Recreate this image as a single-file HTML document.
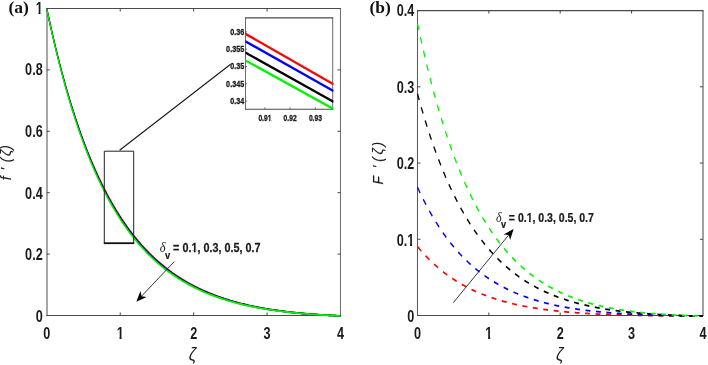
<!DOCTYPE html>
<html><head><meta charset="utf-8"><title>Figure</title>
<style>
html,body{margin:0;padding:0;background:#fff;}
body{width:708px;height:365px;overflow:hidden;}
svg{display:block;}
</style></head><body>
<svg width="708" height="365" viewBox="0 0 708 365">
<rect width="708" height="365" fill="#fff"/>
<!-- panel (a) -->
<path d="M47.0,8.5V315.5" fill="none" stroke="#5c5c5c" stroke-width="1.1"/>
<path d="M340.45,8.5V315.5" fill="none" stroke="#6a6a6a" stroke-width="1.0"/>
<path d="M46.199999999999996,8.5H341.1M46.199999999999996,315.5H341.1" fill="none" stroke="#4a4a4a" stroke-width="1.15"/>
<path d="M120.22,315.5v-3 M120.22,8.5v3 M193.65,315.5v-3 M193.65,8.5v3 M267.07,315.5v-3 M267.07,8.5v3 M46.8,254.10h3 M340.5,254.10h-3 M46.8,192.70h3 M340.5,192.70h-3 M46.8,131.30h3 M340.5,131.30h-3 M46.8,69.90h3 M340.5,69.90h-3" stroke="#333" stroke-width="0.9" fill="none"/>
<clipPath id="cl"><rect x="46.0" y="7.7" width="295.3" height="309.2"/></clipPath>
<g clip-path="url(#cl)"><g transform="scale(0.733,1)" fill="none" stroke-linejoin="round" stroke-width="1.75">
<path d="M63.85,8.90 L66.35,17.39 L68.86,25.65 L71.36,33.68 L73.86,41.48 L76.37,49.08 L78.87,56.46 L81.38,63.64 L83.88,70.61 L86.39,77.40 L88.89,84.00 L91.39,90.42 L93.90,96.66 L96.40,102.73 L98.91,108.63 L101.41,114.37 L103.92,119.95 L106.42,125.38 L108.92,130.66 L111.43,135.80 L113.93,140.79 L116.44,145.65 L118.94,150.37 L121.45,154.97 L123.95,159.44 L126.45,163.78 L128.96,168.01 L131.46,172.13 L133.97,176.13 L136.47,180.02 L138.98,183.81 L141.48,187.49 L143.98,191.07 L146.49,194.56 L148.99,197.95 L151.50,201.25 L154.00,204.46 L156.50,207.59 L159.01,210.63 L161.51,213.58 L164.02,216.46 L166.52,219.26 L169.03,221.99 L171.53,224.64 L174.03,227.22 L176.54,229.73 L179.04,232.17 L181.55,234.55 L184.05,236.86 L186.56,239.11 L189.06,241.30 L191.56,243.44 L194.07,245.51 L196.57,247.53 L199.08,249.50 L201.58,251.41 L204.09,253.27 L206.59,255.09 L209.09,256.85 L211.60,258.57 L214.10,260.24 L216.61,261.87 L219.11,263.45 L221.62,264.99 L224.12,266.49 L226.62,267.95 L229.13,269.37 L231.63,270.75 L234.14,272.10 L236.64,273.41 L239.15,274.68 L241.65,275.92 L244.15,277.13 L246.66,278.31 L249.16,279.45 L251.67,280.56 L254.17,281.65 L256.68,282.70 L259.18,283.73 L261.68,284.73 L264.19,285.70 L266.69,286.65 L269.20,287.57 L271.70,288.46 L274.21,289.33 L276.71,290.18 L279.21,291.01 L281.72,291.81 L284.22,292.59 L286.73,293.35 L289.23,294.09 L291.74,294.81 L294.24,295.51 L296.74,296.19 L299.25,296.85 L301.75,297.49 L304.26,298.12 L306.76,298.73 L309.27,299.32 L311.77,299.90 L314.27,300.46 L316.78,301.00 L319.28,301.53 L321.79,302.04 L324.29,302.55 L326.79,303.03 L329.30,303.50 L331.80,303.96 L334.31,304.41 L336.81,304.84 L339.32,305.27 L341.82,305.67 L344.32,306.07 L346.83,306.46 L349.33,306.83 L351.84,307.20 L354.34,307.55 L356.85,307.90 L359.35,308.23 L361.85,308.56 L364.36,308.87 L366.86,309.18 L369.37,309.47 L371.87,309.76 L374.38,310.04 L376.88,310.31 L379.38,310.57 L381.89,310.83 L384.39,311.07 L386.90,311.31 L389.40,311.55 L391.91,311.77 L394.41,311.99 L396.91,312.20 L399.42,312.40 L401.92,312.60 L404.43,312.79 L406.93,312.98 L409.44,313.16 L411.94,313.34 L414.44,313.50 L416.95,313.67 L419.45,313.82 L421.96,313.98 L424.46,314.13 L426.97,314.27 L429.47,314.41 L431.97,314.54 L434.48,314.67 L436.98,314.79 L439.49,314.91 L441.99,315.03 L444.50,315.14 L447.00,315.25 L449.50,315.35 L452.01,315.45 L454.51,315.55 L457.02,315.64 L459.52,315.73 L462.03,315.82 L464.53,315.90" stroke="#ff0000" stroke-width="1.6"/>
<path d="M63.85,8.90 L66.35,17.44 L68.86,25.75 L71.36,33.83 L73.86,41.68 L76.37,49.31 L78.87,56.73 L81.38,63.94 L83.88,70.96 L86.39,77.77 L88.89,84.40 L91.39,90.85 L93.90,97.12 L96.40,103.21 L98.91,109.13 L101.41,114.89 L103.92,120.50 L106.42,125.94 L108.92,131.24 L111.43,136.39 L113.93,141.39 L116.44,146.26 L118.94,151.00 L121.45,155.60 L123.95,160.08 L126.45,164.43 L128.96,168.67 L131.46,172.79 L133.97,176.80 L136.47,180.69 L138.98,184.48 L141.48,188.17 L143.98,191.75 L146.49,195.24 L148.99,198.63 L151.50,201.93 L154.00,205.14 L156.50,208.26 L159.01,211.30 L161.51,214.26 L164.02,217.13 L166.52,219.93 L169.03,222.65 L171.53,225.29 L174.03,227.87 L176.54,230.38 L179.04,232.81 L181.55,235.18 L184.05,237.49 L186.56,239.74 L189.06,241.92 L191.56,244.05 L194.07,246.12 L196.57,248.13 L199.08,250.09 L201.58,252.00 L204.09,253.85 L206.59,255.65 L209.09,257.41 L211.60,259.12 L214.10,260.78 L216.61,262.40 L219.11,263.98 L221.62,265.51 L224.12,267.00 L226.62,268.45 L229.13,269.86 L231.63,271.24 L234.14,272.58 L236.64,273.88 L239.15,275.14 L241.65,276.38 L244.15,277.58 L246.66,278.74 L249.16,279.88 L251.67,280.98 L254.17,282.06 L256.68,283.10 L259.18,284.12 L261.68,285.11 L264.19,286.08 L266.69,287.01 L269.20,287.93 L271.70,288.81 L274.21,289.68 L276.71,290.52 L279.21,291.33 L281.72,292.13 L284.22,292.90 L286.73,293.66 L289.23,294.39 L291.74,295.10 L294.24,295.79 L296.74,296.46 L299.25,297.12 L301.75,297.76 L304.26,298.38 L306.76,298.98 L309.27,299.56 L311.77,300.13 L314.27,300.69 L316.78,301.22 L319.28,301.75 L321.79,302.25 L324.29,302.75 L326.79,303.23 L329.30,303.70 L331.80,304.15 L334.31,304.59 L336.81,305.02 L339.32,305.43 L341.82,305.84 L344.32,306.23 L346.83,306.61 L349.33,306.98 L351.84,307.34 L354.34,307.69 L356.85,308.03 L359.35,308.36 L361.85,308.68 L364.36,308.99 L366.86,309.29 L369.37,309.58 L371.87,309.86 L374.38,310.14 L376.88,310.41 L379.38,310.66 L381.89,310.92 L384.39,311.16 L386.90,311.39 L389.40,311.62 L391.91,311.84 L394.41,312.06 L396.91,312.27 L399.42,312.47 L401.92,312.66 L404.43,312.85 L406.93,313.03 L409.44,313.21 L411.94,313.38 L414.44,313.55 L416.95,313.71 L419.45,313.86 L421.96,314.01 L424.46,314.16 L426.97,314.30 L429.47,314.43 L431.97,314.56 L434.48,314.69 L436.98,314.81 L439.49,314.93 L441.99,315.04 L444.50,315.15 L447.00,315.26 L449.50,315.36 L452.01,315.46 L454.51,315.56 L457.02,315.65 L459.52,315.73 L462.03,315.82 L464.53,315.90" stroke="#0000ff" stroke-width="1.6"/>
<path d="M63.85,8.90 L66.35,17.52 L68.86,25.90 L71.36,34.04 L73.86,41.95 L76.37,49.64 L78.87,57.12 L81.38,64.38 L83.88,71.44 L86.39,78.31 L88.89,84.98 L91.39,91.46 L93.90,97.77 L96.40,103.90 L98.91,109.85 L101.41,115.64 L103.92,121.27 L106.42,126.74 L108.92,132.06 L111.43,137.23 L113.93,142.26 L116.44,147.14 L118.94,151.89 L121.45,156.51 L123.95,161.00 L126.45,165.37 L128.96,169.61 L131.46,173.74 L133.97,177.75 L136.47,181.65 L138.98,185.45 L141.48,189.14 L143.98,192.72 L146.49,196.21 L148.99,199.60 L151.50,202.90 L154.00,206.11 L156.50,209.23 L159.01,212.27 L161.51,215.22 L164.02,218.09 L166.52,220.88 L169.03,223.59 L171.53,226.23 L174.03,228.80 L176.54,231.30 L179.04,233.73 L181.55,236.10 L184.05,238.39 L186.56,240.63 L189.06,242.81 L191.56,244.92 L194.07,246.98 L196.57,248.98 L199.08,250.93 L201.58,252.83 L204.09,254.67 L206.59,256.47 L209.09,258.21 L211.60,259.91 L214.10,261.56 L216.61,263.17 L219.11,264.73 L221.62,266.25 L224.12,267.73 L226.62,269.17 L229.13,270.57 L231.63,271.93 L234.14,273.26 L236.64,274.55 L239.15,275.80 L241.65,277.02 L244.15,278.21 L246.66,279.36 L249.16,280.49 L251.67,281.58 L254.17,282.64 L256.68,283.68 L259.18,284.68 L261.68,285.66 L264.19,286.62 L266.69,287.54 L269.20,288.44 L271.70,289.32 L274.21,290.17 L276.71,291.00 L279.21,291.81 L281.72,292.59 L284.22,293.35 L286.73,294.09 L289.23,294.81 L291.74,295.52 L294.24,296.20 L296.74,296.86 L299.25,297.50 L301.75,298.13 L304.26,298.74 L306.76,299.33 L309.27,299.91 L311.77,300.47 L314.27,301.01 L316.78,301.54 L319.28,302.06 L321.79,302.55 L324.29,303.04 L326.79,303.51 L329.30,303.97 L331.80,304.41 L334.31,304.85 L336.81,305.27 L339.32,305.68 L341.82,306.07 L344.32,306.46 L346.83,306.83 L349.33,307.19 L351.84,307.55 L354.34,307.89 L356.85,308.22 L359.35,308.54 L361.85,308.85 L364.36,309.16 L366.86,309.45 L369.37,309.74 L371.87,310.01 L374.38,310.28 L376.88,310.54 L379.38,310.80 L381.89,311.04 L384.39,311.28 L386.90,311.51 L389.40,311.73 L391.91,311.95 L394.41,312.16 L396.91,312.36 L399.42,312.56 L401.92,312.75 L404.43,312.93 L406.93,313.11 L409.44,313.28 L411.94,313.45 L414.44,313.61 L416.95,313.77 L419.45,313.92 L421.96,314.06 L424.46,314.21 L426.97,314.34 L429.47,314.47 L431.97,314.60 L434.48,314.72 L436.98,314.84 L439.49,314.96 L441.99,315.07 L444.50,315.18 L447.00,315.28 L449.50,315.38 L452.01,315.47 L454.51,315.56 L457.02,315.65 L459.52,315.74 L462.03,315.82 L464.53,315.90" stroke="#000000" stroke-width="1.6"/>
<path d="M63.77,8.90 L66.27,17.59 L68.78,26.04 L71.28,34.25 L73.78,42.22 L76.29,49.97 L78.79,57.50 L81.30,64.82 L83.80,71.93 L86.31,78.84 L88.81,85.56 L91.31,92.08 L93.82,98.42 L96.32,104.58 L98.83,110.57 L101.33,116.39 L103.84,122.04 L106.34,127.54 L108.84,132.88 L111.35,138.07 L113.85,143.12 L116.36,148.02 L118.86,152.79 L121.37,157.42 L123.87,161.92 L126.37,166.30 L128.88,170.55 L131.38,174.69 L133.89,178.71 L136.39,182.61 L138.90,186.41 L141.40,190.10 L143.90,193.69 L146.41,197.18 L148.91,200.58 L151.42,203.88 L153.92,207.08 L156.42,210.20 L158.93,213.23 L161.43,216.18 L163.94,219.04 L166.44,221.83 L168.95,224.54 L171.45,227.17 L173.95,229.74 L176.46,232.23 L178.96,234.65 L181.47,237.01 L183.97,239.30 L186.48,241.52 L188.98,243.69 L191.48,245.80 L193.99,247.85 L196.49,249.84 L199.00,251.78 L201.50,253.66 L204.01,255.49 L206.51,257.28 L209.01,259.01 L211.52,260.70 L214.02,262.34 L216.53,263.93 L219.03,265.48 L221.54,266.99 L224.04,268.46 L226.54,269.89 L229.05,271.28 L231.55,272.63 L234.06,273.94 L236.56,275.22 L239.07,276.46 L241.57,277.67 L244.07,278.84 L246.58,279.99 L249.08,281.10 L251.59,282.18 L254.09,283.23 L256.60,284.25 L259.10,285.25 L261.60,286.21 L264.11,287.15 L266.61,288.07 L269.12,288.96 L271.62,289.82 L274.13,290.66 L276.63,291.48 L279.13,292.28 L281.64,293.05 L284.14,293.80 L286.65,294.53 L289.15,295.24 L291.66,295.93 L294.16,296.60 L296.66,297.26 L299.17,297.89 L301.67,298.51 L304.18,299.11 L306.68,299.69 L309.19,300.26 L311.69,300.81 L314.19,301.34 L316.70,301.86 L319.20,302.36 L321.71,302.85 L324.21,303.33 L326.71,303.79 L329.22,304.24 L331.72,304.68 L334.23,305.10 L336.73,305.52 L339.24,305.92 L341.74,306.30 L344.24,306.68 L346.75,307.05 L349.25,307.40 L351.76,307.75 L354.26,308.08 L356.77,308.41 L359.27,308.72 L361.77,309.03 L364.28,309.33 L366.78,309.61 L369.29,309.89 L371.79,310.16 L374.30,310.43 L376.80,310.68 L379.30,310.93 L381.81,311.17 L384.31,311.40 L386.82,311.62 L389.32,311.84 L391.83,312.05 L394.33,312.26 L396.83,312.46 L399.34,312.65 L401.84,312.83 L404.35,313.01 L406.85,313.19 L409.36,313.35 L411.86,313.52 L414.36,313.67 L416.87,313.83 L419.37,313.97 L421.88,314.12 L424.38,314.25 L426.89,314.39 L429.39,314.51 L431.89,314.64 L434.40,314.76 L436.90,314.87 L439.41,314.99 L441.91,315.09 L444.42,315.20 L446.92,315.30 L449.42,315.39 L451.93,315.49 L454.43,315.57 L456.94,315.66 L459.44,315.74 L461.95,315.82 L464.45,315.90" stroke="#00f400" stroke-width="1.9"/>
</g></g>
<text transform="translate(46.80,339.10) scale(0.7450,1)" font-family='"Liberation Sans", Arial, sans-serif' font-size="17.0" font-weight="bold" font-style="normal" text-anchor="middle" fill="#1a1a1a" >0</text>
<text transform="translate(120.22,339.10) scale(0.7450,1)" font-family='"Liberation Sans", Arial, sans-serif' font-size="17.0" font-weight="bold" font-style="normal" text-anchor="middle" fill="#1a1a1a" >1</text><g transform="translate(120.22,339.10) scale(0.7450,1)" fill="#fff"><rect x="-4.39" y="-2.12" width="3.40" height="2.67"/><rect x="1.81" y="-2.12" width="3.40" height="2.67"/></g>
<text transform="translate(193.65,339.10) scale(0.7450,1)" font-family='"Liberation Sans", Arial, sans-serif' font-size="17.0" font-weight="bold" font-style="normal" text-anchor="middle" fill="#1a1a1a" >2</text>
<text transform="translate(267.07,339.10) scale(0.7450,1)" font-family='"Liberation Sans", Arial, sans-serif' font-size="17.0" font-weight="bold" font-style="normal" text-anchor="middle" fill="#1a1a1a" >3</text>
<text transform="translate(340.50,339.10) scale(0.7450,1)" font-family='"Liberation Sans", Arial, sans-serif' font-size="17.0" font-weight="bold" font-style="normal" text-anchor="middle" fill="#1a1a1a" >4</text>
<text transform="translate(42.70,322.00) scale(0.7450,1)" font-family='"Liberation Sans", Arial, sans-serif' font-size="17.0" font-weight="bold" font-style="normal" text-anchor="end" fill="#1a1a1a" >0</text>
<text transform="translate(42.70,260.34) scale(0.7450,1)" font-family='"Liberation Sans", Arial, sans-serif' font-size="17.0" font-weight="bold" font-style="normal" text-anchor="end" fill="#1a1a1a" >0.2</text>
<text transform="translate(42.70,198.68) scale(0.7450,1)" font-family='"Liberation Sans", Arial, sans-serif' font-size="17.0" font-weight="bold" font-style="normal" text-anchor="end" fill="#1a1a1a" >0.4</text>
<text transform="translate(42.70,137.02) scale(0.7450,1)" font-family='"Liberation Sans", Arial, sans-serif' font-size="17.0" font-weight="bold" font-style="normal" text-anchor="end" fill="#1a1a1a" >0.6</text>
<text transform="translate(42.70,75.36) scale(0.7450,1)" font-family='"Liberation Sans", Arial, sans-serif' font-size="17.0" font-weight="bold" font-style="normal" text-anchor="end" fill="#1a1a1a" >0.8</text>
<text transform="translate(42.70,13.70) scale(0.7450,1)" font-family='"Liberation Sans", Arial, sans-serif' font-size="17.0" font-weight="bold" font-style="normal" text-anchor="end" fill="#1a1a1a" >1</text><g transform="translate(42.70,13.70) scale(0.7450,1)" fill="#fff"><rect x="-9.12" y="-2.12" width="3.40" height="2.67"/><rect x="-2.92" y="-2.12" width="3.40" height="2.67"/></g>
<text transform="translate(192.50,359.80) scale(0.8800,1)" font-family='"Liberation Sans", Arial, sans-serif' font-size="18.5" font-weight="normal" font-style="italic" text-anchor="middle" fill="#1a1a1a" >ζ</text>
<text transform="translate(11.4,180.3) rotate(-90)" x="0 4 9.8 13 18.0 24.4 30.6" font-family='"Liberation Sans", Arial, sans-serif' font-size="13.8" font-style="italic" fill="#1a1a1a" stroke="#1a1a1a" stroke-width="0.15">f ' (ζ)</text>
<text x="8.4" y="13.3" font-family='"Liberation Serif", "Times New Roman", serif' font-size="17.5" font-weight="bold" fill="#111">(a)</text>
<path d="M104.3,243.2V151.2H133.7V243.2" fill="none" stroke="#222" stroke-width="1"/>
<path d="M103.8,243.2H134.2" fill="none" stroke="#111" stroke-width="1.8"/>
<path d="M119.6,150.3L230.6,64.3" fill="none" stroke="#1a1a1a" stroke-width="1.15"/>
<text transform="translate(159.80,252.30) scale(0.9000,1)" font-family='"Liberation Serif", "Times New Roman", serif' font-size="13.8" font-weight="normal" font-style="italic" text-anchor="start" fill="#1a1a1a" >δ</text>
<text transform="translate(165.00,258.60) scale(0.9000,1)" font-family='"Liberation Sans", Arial, sans-serif' font-size="10.5" font-weight="bold" font-style="normal" text-anchor="start" fill="#1a1a1a" stroke="#1a1a1a" stroke-width="0.2">v</text>
<text transform="translate(173.10,252.30) scale(0.8020,1)" font-family='"Liberation Sans", Arial, sans-serif' font-size="13.5" font-weight="bold" font-style="normal" text-anchor="start" fill="#1a1a1a" stroke="#1a1a1a" stroke-width="0.25">= 0.1, 0.3, 0.5, 0.7</text><g transform="translate(173.10,252.30) scale(0.8020,1)" fill="#fff"><rect x="23.13" y="-1.75" width="2.70" height="2.30"/><rect x="28.06" y="-1.75" width="2.70" height="2.30"/></g>
<path d="M174.3,261.6L141.5,296.2" stroke="#222" stroke-width="0.9" fill="none"/><path d="M136.3,301.7L140.5,291.1L141.5,296.2L146.6,296.9Z" fill="#000"/>
<!-- inset -->
<rect x="245.5" y="17.9" width="87.19999999999999" height="91.30000000000001" fill="#fff" stroke="none"/>
<path d="M245.5,17.9V109.2" fill="none" stroke="#6a6a6a" stroke-width="1.0"/>
<path d="M332.7,17.9V109.2" fill="none" stroke="#6a6a6a" stroke-width="1.0"/>
<path d="M245.0,17.9H333.2M245.0,109.2H333.2" fill="none" stroke="#4a4a4a" stroke-width="1.1"/>
<path d="M264.9,109.2v-1.8 M290.1,109.2v-1.8 M315.4,109.2v-1.8 M245.5,31.9h1.6 M245.5,49.2h1.6 M245.5,66.5h1.6 M245.5,83.8h1.6 M245.5,101.1h1.6" stroke="#4a4a4a" stroke-width="0.8" fill="none"/>
<clipPath id="ci"><rect x="245.5" y="17.9" width="87.99999999999999" height="91.9"/></clipPath>
<g clip-path="url(#ci)"><g transform="scale(0.733,1)" fill="none" stroke-width="2.45">
<path d="M333.56,33.33L455.25,84.47" stroke="#ff0000"/>
<path d="M333.56,40.84L455.25,91.16" stroke="#0000ff"/>
<path d="M333.56,52.04L455.25,101.86" stroke="#000000"/>
<path d="M333.56,59.95L455.25,109.15" stroke="#00f400"/>
</g></g>
<text transform="translate(244.20,34.70) scale(0.8400,1)" font-family='"Liberation Sans", Arial, sans-serif' font-size="8.6" font-weight="bold" font-style="normal" text-anchor="end" fill="#1a1a1a" stroke="#1a1a1a" stroke-width="0.3">0.36</text>
<text transform="translate(244.20,52.00) scale(0.8400,1)" font-family='"Liberation Sans", Arial, sans-serif' font-size="8.6" font-weight="bold" font-style="normal" text-anchor="end" fill="#1a1a1a" stroke="#1a1a1a" stroke-width="0.3">0.355</text>
<text transform="translate(244.20,69.30) scale(0.8400,1)" font-family='"Liberation Sans", Arial, sans-serif' font-size="8.6" font-weight="bold" font-style="normal" text-anchor="end" fill="#1a1a1a" stroke="#1a1a1a" stroke-width="0.3">0.35</text>
<text transform="translate(244.20,86.60) scale(0.8400,1)" font-family='"Liberation Sans", Arial, sans-serif' font-size="8.6" font-weight="bold" font-style="normal" text-anchor="end" fill="#1a1a1a" stroke="#1a1a1a" stroke-width="0.3">0.345</text>
<text transform="translate(244.20,103.90) scale(0.8400,1)" font-family='"Liberation Sans", Arial, sans-serif' font-size="8.6" font-weight="bold" font-style="normal" text-anchor="end" fill="#1a1a1a" stroke="#1a1a1a" stroke-width="0.3">0.34</text>
<text transform="translate(264.90,121.30) scale(0.7800,1)" font-family='"Liberation Sans", Arial, sans-serif' font-size="8.6" font-weight="bold" font-style="normal" text-anchor="middle" fill="#1a1a1a" stroke="#1a1a1a" stroke-width="0.3">0.91</text><g transform="translate(264.90,121.30) scale(0.7800,1)" fill="#fff"><rect x="3.74" y="-1.24" width="1.72" height="1.79"/><rect x="6.88" y="-1.24" width="1.72" height="1.79"/></g>
<text transform="translate(290.10,121.30) scale(0.7800,1)" font-family='"Liberation Sans", Arial, sans-serif' font-size="8.6" font-weight="bold" font-style="normal" text-anchor="middle" fill="#1a1a1a" stroke="#1a1a1a" stroke-width="0.3">0.92</text>
<text transform="translate(315.40,121.30) scale(0.7800,1)" font-family='"Liberation Sans", Arial, sans-serif' font-size="8.6" font-weight="bold" font-style="normal" text-anchor="middle" fill="#1a1a1a" stroke="#1a1a1a" stroke-width="0.3">0.93</text>
<!-- panel (b) -->
<path d="M417.5,10.6V315.5" fill="none" stroke="#5a5a5a" stroke-width="1.05"/>
<path d="M703.0,10.6V315.5" fill="none" stroke="#5c5c5c" stroke-width="1.15"/>
<path d="M416.9,10.6H703.5M416.9,315.5H703.5" fill="none" stroke="#4a4a4a" stroke-width="1.15"/>
<path d="M488.85,315.5v-3 M488.85,10.6v3 M560.20,315.5v-3 M560.20,10.6v3 M631.55,315.5v-3 M631.55,10.6v3 M417.5,239.28h3 M702.9,239.28h-3 M417.5,163.05h3 M702.9,163.05h-3 M417.5,86.82h3 M702.9,86.82h-3" stroke="#333" stroke-width="0.9" fill="none"/>
<clipPath id="cr"><rect x="416.9" y="10.6" width="286.59999999999997" height="306.59999999999997"/></clipPath>
<g clip-path="url(#cr)"><g transform="scale(0.733,1)" fill="none" stroke-width="1.75" stroke-dasharray="6.7 7.6">
<path d="M569.58,246.58 L571.20,248.02 L572.82,249.42 L574.44,250.80 L576.07,252.14 L577.69,253.46 L579.31,254.76 L580.93,256.02 L582.56,257.26 L584.18,258.48 L585.80,259.67 L587.42,260.84 L589.05,261.98 L590.67,263.10 L592.29,264.20 L593.91,265.28 L595.53,266.33 L597.16,267.37 L598.78,268.38 L600.40,269.37 L602.02,270.34 L603.65,271.30 L605.27,272.23 L606.89,273.14 L608.51,274.04 L610.14,274.92 L611.76,275.78 L613.38,276.63 L615.00,277.45 L616.62,278.26 L618.25,279.06 L619.87,279.84 L621.49,280.60 L623.11,281.35 L624.74,282.08 L626.36,282.80 L627.98,283.50 L629.60,284.19 L631.23,284.86 L632.85,285.53 L634.47,286.17 L636.09,286.81 L637.71,287.43 L639.34,288.04 L640.96,288.64 L642.58,289.23 L644.20,289.80 L645.83,290.36 L647.45,290.92 L649.07,291.46 L650.69,291.99 L652.32,292.50 L653.94,293.01 L655.56,293.51 L657.18,294.00 L658.81,294.48 L660.43,294.94 L662.05,295.40 L663.67,295.85 L665.29,296.29 L666.92,296.72 L668.54,297.15 L670.16,297.56 L671.78,297.97 L673.41,298.37 L675.03,298.75 L676.65,299.14 L678.27,299.51 L679.90,299.88 L681.52,300.23 L683.14,300.59 L684.76,300.93 L686.38,301.27 L688.01,301.60 L689.63,301.92 L691.25,302.24 L692.87,302.55 L694.50,302.85 L696.12,303.15 L697.74,303.44 L699.36,303.72 L700.99,304.00 L702.61,304.28 L704.23,304.55 L705.85,304.81 L707.47,305.06 L709.10,305.32 L710.72,305.56 L712.34,305.80 L713.96,306.04 L715.59,306.27 L717.21,306.50 L718.83,306.72 L720.45,306.94 L722.08,307.15 L723.70,307.36 L725.32,307.56 L726.94,307.76 L728.57,307.95 L730.19,308.15 L731.81,308.33 L733.43,308.52 L735.05,308.69 L736.68,308.87 L738.30,309.04 L739.92,309.21 L741.54,309.37 L743.17,309.53 L744.79,309.69 L746.41,309.85 L748.03,310.00 L749.66,310.14 L751.28,310.29 L752.90,310.43 L754.52,310.57 L756.14,310.70 L757.77,310.83 L759.39,310.96 L761.01,311.09 L762.63,311.21 L764.26,311.33 L765.88,311.45 L767.50,311.57 L769.12,311.68 L770.75,311.79 L772.37,311.90 L773.99,312.01 L775.61,312.11 L777.24,312.21 L778.86,312.31 L780.48,312.41 L782.10,312.50 L783.72,312.60 L785.35,312.69 L786.97,312.77 L788.59,312.86 L790.21,312.95 L791.84,313.03 L793.46,313.11 L795.08,313.19 L796.70,313.26 L798.33,313.34 L799.95,313.41 L801.57,313.49 L803.19,313.56 L804.81,313.62 L806.44,313.69 L808.06,313.76 L809.68,313.82 L811.30,313.88 L812.93,313.95 L814.55,314.01 L816.17,314.06 L817.79,314.12 L819.42,314.18 L821.04,314.23 L822.66,314.28 L824.28,314.34 L825.90,314.39 L827.53,314.44 L829.15,314.48 L830.77,314.53 L832.39,314.58 L834.02,314.62 L835.64,314.67 L837.26,314.71 L838.88,314.75 L840.51,314.79 L842.13,314.83 L843.75,314.87 L845.37,314.91 L847.00,314.94 L848.62,314.98 L850.24,315.02 L851.86,315.05 L853.48,315.08 L855.11,315.12 L856.73,315.15 L858.35,315.18 L859.97,315.21 L861.60,315.24 L863.22,315.27 L864.84,315.30 L866.46,315.32 L868.09,315.35 L869.71,315.38 L871.33,315.40 L872.95,315.43 L874.57,315.45 L876.20,315.47 L877.82,315.50 L879.44,315.52 L881.06,315.54 L882.69,315.56 L884.31,315.58 L885.93,315.60 L887.55,315.62 L889.18,315.64 L890.80,315.66 L892.42,315.68 L894.04,315.69 L895.67,315.71 L897.29,315.73 L898.91,315.74 L900.53,315.76 L902.15,315.77 L903.78,315.79 L905.40,315.80 L907.02,315.82 L908.64,315.83 L910.27,315.84 L911.89,315.86 L913.51,315.87 L915.13,315.88 L916.76,315.89 L918.38,315.90 L920.00,315.91 L921.62,315.93 L923.24,315.94 L924.87,315.95 L926.49,315.96 L928.11,315.97 L929.73,315.97 L931.36,315.98 L932.98,315.99 L934.60,316.00 L936.22,316.01 L937.85,316.02 L939.47,316.02 L941.09,316.03 L942.71,316.04 L944.33,316.05 L945.96,316.05 L947.58,316.06 L949.20,316.07 L950.82,316.07 L952.45,316.08 L954.07,316.08 L955.69,316.09 L957.31,316.09 L958.94,316.10" stroke="#ff0000"/>
<path d="M569.58,187.28 L571.20,189.87 L572.82,192.41 L574.44,194.90 L576.07,197.34 L577.69,199.72 L579.31,202.07 L580.93,204.36 L582.56,206.61 L584.18,208.81 L585.80,210.97 L587.42,213.09 L589.05,215.16 L590.67,217.20 L592.29,219.19 L593.91,221.14 L595.53,223.06 L597.16,224.93 L598.78,226.77 L600.40,228.58 L602.02,230.34 L603.65,232.08 L605.27,233.77 L606.89,235.44 L608.51,237.07 L610.14,238.67 L611.76,240.24 L613.38,241.78 L615.00,243.28 L616.62,244.76 L618.25,246.21 L619.87,247.63 L621.49,249.02 L623.11,250.38 L624.74,251.72 L626.36,253.03 L627.98,254.32 L629.60,255.58 L631.23,256.81 L632.85,258.02 L634.47,259.21 L636.09,260.37 L637.71,261.52 L639.34,262.63 L640.96,263.73 L642.58,264.81 L644.20,265.86 L645.83,266.89 L647.45,267.91 L649.07,268.90 L650.69,269.88 L652.32,270.83 L653.94,271.77 L655.56,272.68 L657.18,273.58 L658.81,274.47 L660.43,275.33 L662.05,276.18 L663.67,277.01 L665.29,277.83 L666.92,278.63 L668.54,279.41 L670.16,280.18 L671.78,280.93 L673.41,281.67 L675.03,282.39 L676.65,283.10 L678.27,283.80 L679.90,284.48 L681.52,285.15 L683.14,285.80 L684.76,286.44 L686.38,287.07 L688.01,287.69 L689.63,288.29 L691.25,288.89 L692.87,289.47 L694.50,290.04 L696.12,290.60 L697.74,291.14 L699.36,291.68 L700.99,292.21 L702.61,292.72 L704.23,293.23 L705.85,293.72 L707.47,294.21 L709.10,294.69 L710.72,295.15 L712.34,295.61 L713.96,296.06 L715.59,296.50 L717.21,296.93 L718.83,297.35 L720.45,297.76 L722.08,298.17 L723.70,298.56 L725.32,298.95 L726.94,299.33 L728.57,299.71 L730.19,300.07 L731.81,300.43 L733.43,300.78 L735.05,301.13 L736.68,301.46 L738.30,301.79 L739.92,302.12 L741.54,302.44 L743.17,302.75 L744.79,303.05 L746.41,303.35 L748.03,303.64 L749.66,303.93 L751.28,304.21 L752.90,304.48 L754.52,304.75 L756.14,305.02 L757.77,305.27 L759.39,305.53 L761.01,305.78 L762.63,306.02 L764.26,306.26 L765.88,306.49 L767.50,306.72 L769.12,306.94 L770.75,307.16 L772.37,307.37 L773.99,307.58 L775.61,307.79 L777.24,307.99 L778.86,308.18 L780.48,308.38 L782.10,308.57 L783.72,308.75 L785.35,308.93 L786.97,309.11 L788.59,309.28 L790.21,309.45 L791.84,309.62 L793.46,309.78 L795.08,309.94 L796.70,310.09 L798.33,310.25 L799.95,310.39 L801.57,310.54 L803.19,310.68 L804.81,310.82 L806.44,310.96 L808.06,311.09 L809.68,311.22 L811.30,311.35 L812.93,311.48 L814.55,311.60 L816.17,311.72 L817.79,311.84 L819.42,311.95 L821.04,312.06 L822.66,312.17 L824.28,312.28 L825.90,312.38 L827.53,312.49 L829.15,312.59 L830.77,312.69 L832.39,312.78 L834.02,312.87 L835.64,312.97 L837.26,313.06 L838.88,313.14 L840.51,313.23 L842.13,313.31 L843.75,313.39 L845.37,313.47 L847.00,313.55 L848.62,313.63 L850.24,313.70 L851.86,313.78 L853.48,313.85 L855.11,313.92 L856.73,313.98 L858.35,314.05 L859.97,314.11 L861.60,314.18 L863.22,314.24 L864.84,314.30 L866.46,314.36 L868.09,314.42 L869.71,314.47 L871.33,314.53 L872.95,314.58 L874.57,314.63 L876.20,314.68 L877.82,314.73 L879.44,314.78 L881.06,314.83 L882.69,314.87 L884.31,314.92 L885.93,314.96 L887.55,315.01 L889.18,315.05 L890.80,315.09 L892.42,315.13 L894.04,315.17 L895.67,315.20 L897.29,315.24 L898.91,315.28 L900.53,315.31 L902.15,315.35 L903.78,315.38 L905.40,315.41 L907.02,315.44 L908.64,315.47 L910.27,315.50 L911.89,315.53 L913.51,315.56 L915.13,315.59 L916.76,315.61 L918.38,315.64 L920.00,315.67 L921.62,315.69 L923.24,315.72 L924.87,315.74 L926.49,315.76 L928.11,315.78 L929.73,315.80 L931.36,315.83 L932.98,315.85 L934.60,315.87 L936.22,315.88 L937.85,315.90 L939.47,315.92 L941.09,315.94 L942.71,315.96 L944.33,315.97 L945.96,315.99 L947.58,316.00 L949.20,316.02 L950.82,316.03 L952.45,316.05 L954.07,316.06 L955.69,316.07 L957.31,316.09 L958.94,316.10" stroke="#0000ff"/>
<path d="M569.58,93.90 L571.20,98.25 L572.82,102.50 L574.44,106.68 L576.07,110.77 L577.69,114.78 L579.31,118.72 L580.93,122.58 L582.56,126.36 L584.18,130.07 L585.80,133.71 L587.42,137.28 L589.05,140.78 L590.67,144.21 L592.29,147.57 L593.91,150.87 L595.53,154.11 L597.16,157.29 L598.78,160.40 L600.40,163.45 L602.02,166.45 L603.65,169.39 L605.27,172.27 L606.89,175.09 L608.51,177.86 L610.14,180.58 L611.76,183.25 L613.38,185.87 L615.00,188.43 L616.62,190.95 L618.25,193.42 L619.87,195.84 L621.49,198.21 L623.11,200.54 L624.74,202.83 L626.36,205.07 L627.98,207.27 L629.60,209.43 L631.23,211.54 L632.85,213.62 L634.47,215.66 L636.09,217.66 L637.71,219.62 L639.34,221.54 L640.96,223.42 L642.58,225.27 L644.20,227.09 L645.83,228.87 L647.45,230.62 L649.07,232.33 L650.69,234.01 L652.32,235.66 L653.94,237.28 L655.56,238.86 L657.18,240.42 L658.81,241.95 L660.43,243.45 L662.05,244.92 L663.67,246.36 L665.29,247.77 L666.92,249.16 L668.54,250.52 L670.16,251.86 L671.78,253.16 L673.41,254.45 L675.03,255.71 L676.65,256.95 L678.27,258.16 L679.90,259.35 L681.52,260.52 L683.14,261.66 L684.76,262.78 L686.38,263.88 L688.01,264.96 L689.63,266.02 L691.25,267.06 L692.87,268.08 L694.50,269.08 L696.12,270.06 L697.74,271.03 L699.36,271.97 L700.99,272.89 L702.61,273.80 L704.23,274.69 L705.85,275.57 L707.47,276.42 L709.10,277.26 L710.72,278.09 L712.34,278.89 L713.96,279.69 L715.59,280.46 L717.21,281.22 L718.83,281.97 L720.45,282.70 L722.08,283.42 L723.70,284.13 L725.32,284.82 L726.94,285.50 L728.57,286.16 L730.19,286.81 L731.81,287.45 L733.43,288.08 L735.05,288.69 L736.68,289.29 L738.30,289.88 L739.92,290.46 L741.54,291.03 L743.17,291.58 L744.79,292.13 L746.41,292.66 L748.03,293.19 L749.66,293.70 L751.28,294.21 L752.90,294.70 L754.52,295.18 L756.14,295.66 L757.77,296.12 L759.39,296.58 L761.01,297.02 L762.63,297.46 L764.26,297.89 L765.88,298.31 L767.50,298.72 L769.12,299.12 L770.75,299.52 L772.37,299.91 L773.99,300.29 L775.61,300.66 L777.24,301.02 L778.86,301.38 L780.48,301.73 L782.10,302.07 L783.72,302.41 L785.35,302.74 L786.97,303.06 L788.59,303.37 L790.21,303.68 L791.84,303.99 L793.46,304.28 L795.08,304.57 L796.70,304.86 L798.33,305.14 L799.95,305.41 L801.57,305.68 L803.19,305.94 L804.81,306.19 L806.44,306.45 L808.06,306.69 L809.68,306.93 L811.30,307.17 L812.93,307.40 L814.55,307.62 L816.17,307.84 L817.79,308.06 L819.42,308.27 L821.04,308.48 L822.66,308.68 L824.28,308.88 L825.90,309.07 L827.53,309.26 L829.15,309.45 L830.77,309.63 L832.39,309.81 L834.02,309.98 L835.64,310.15 L837.26,310.32 L838.88,310.48 L840.51,310.64 L842.13,310.80 L843.75,310.95 L845.37,311.10 L847.00,311.24 L848.62,311.39 L850.24,311.53 L851.86,311.66 L853.48,311.80 L855.11,311.93 L856.73,312.05 L858.35,312.18 L859.97,312.30 L861.60,312.42 L863.22,312.53 L864.84,312.65 L866.46,312.76 L868.09,312.87 L869.71,312.97 L871.33,313.08 L872.95,313.18 L874.57,313.28 L876.20,313.37 L877.82,313.47 L879.44,313.56 L881.06,313.65 L882.69,313.73 L884.31,313.82 L885.93,313.90 L887.55,313.98 L889.18,314.06 L890.80,314.14 L892.42,314.22 L894.04,314.29 L895.67,314.36 L897.29,314.43 L898.91,314.50 L900.53,314.57 L902.15,314.63 L903.78,314.70 L905.40,314.76 L907.02,314.82 L908.64,314.88 L910.27,314.94 L911.89,314.99 L913.51,315.05 L915.13,315.10 L916.76,315.15 L918.38,315.20 L920.00,315.25 L921.62,315.30 L923.24,315.35 L924.87,315.39 L926.49,315.44 L928.11,315.48 L929.73,315.52 L931.36,315.56 L932.98,315.60 L934.60,315.64 L936.22,315.68 L937.85,315.71 L939.47,315.75 L941.09,315.78 L942.71,315.82 L944.33,315.85 L945.96,315.88 L947.58,315.91 L949.20,315.94 L950.82,315.97 L952.45,316.00 L954.07,316.02 L955.69,316.05 L957.31,316.08 L958.94,316.10" stroke="#000000"/>
<path d="M569.58,23.40 L571.20,29.07 L572.82,34.64 L574.44,40.11 L576.07,45.46 L577.69,50.72 L579.31,55.87 L580.93,60.92 L582.56,65.88 L584.18,70.74 L585.80,75.51 L587.42,80.19 L589.05,84.78 L590.67,89.28 L592.29,93.70 L593.91,98.03 L595.53,102.28 L597.16,106.46 L598.78,110.55 L600.40,114.56 L602.02,118.50 L603.65,122.36 L605.27,126.15 L606.89,129.87 L608.51,133.52 L610.14,137.10 L611.76,140.61 L613.38,144.06 L615.00,147.44 L616.62,150.76 L618.25,154.01 L619.87,157.21 L621.49,160.34 L623.11,163.42 L624.74,166.43 L626.36,169.40 L627.98,172.30 L629.60,175.15 L631.23,177.95 L632.85,180.69 L634.47,183.38 L636.09,186.02 L637.71,188.62 L639.34,191.16 L640.96,193.65 L642.58,196.10 L644.20,198.50 L645.83,200.86 L647.45,203.17 L649.07,205.44 L650.69,207.67 L652.32,209.85 L653.94,212.00 L655.56,214.10 L657.18,216.16 L658.81,218.19 L660.43,220.17 L662.05,222.12 L663.67,224.03 L665.29,225.91 L666.92,227.75 L668.54,229.55 L670.16,231.33 L671.78,233.06 L673.41,234.77 L675.03,236.44 L676.65,238.08 L678.27,239.69 L679.90,241.27 L681.52,242.82 L683.14,244.33 L684.76,245.82 L686.38,247.29 L688.01,248.72 L689.63,250.13 L691.25,251.51 L692.87,252.86 L694.50,254.19 L696.12,255.49 L697.74,256.77 L699.36,258.02 L700.99,259.25 L702.61,260.45 L704.23,261.63 L705.85,262.79 L707.47,263.93 L709.10,265.04 L710.72,266.13 L712.34,267.21 L713.96,268.26 L715.59,269.29 L717.21,270.30 L718.83,271.29 L720.45,272.26 L722.08,273.21 L723.70,274.15 L725.32,275.06 L726.94,275.96 L728.57,276.84 L730.19,277.70 L731.81,278.55 L733.43,279.38 L735.05,280.19 L736.68,280.99 L738.30,281.77 L739.92,282.54 L741.54,283.29 L743.17,284.03 L744.79,284.75 L746.41,285.45 L748.03,286.15 L749.66,286.83 L751.28,287.49 L752.90,288.14 L754.52,288.78 L756.14,289.41 L757.77,290.02 L759.39,290.63 L761.01,291.21 L762.63,291.79 L764.26,292.36 L765.88,292.91 L767.50,293.46 L769.12,293.99 L770.75,294.51 L772.37,295.02 L773.99,295.52 L775.61,296.01 L777.24,296.49 L778.86,296.96 L780.48,297.42 L782.10,297.87 L783.72,298.31 L785.35,298.75 L786.97,299.17 L788.59,299.59 L790.21,299.99 L791.84,300.39 L793.46,300.78 L795.08,301.16 L796.70,301.53 L798.33,301.90 L799.95,302.26 L801.57,302.61 L803.19,302.95 L804.81,303.29 L806.44,303.62 L808.06,303.94 L809.68,304.25 L811.30,304.56 L812.93,304.86 L814.55,305.16 L816.17,305.44 L817.79,305.73 L819.42,306.00 L821.04,306.27 L822.66,306.54 L824.28,306.80 L825.90,307.05 L827.53,307.30 L829.15,307.54 L830.77,307.78 L832.39,308.01 L834.02,308.23 L835.64,308.46 L837.26,308.67 L838.88,308.88 L840.51,309.09 L842.13,309.29 L843.75,309.49 L845.37,309.69 L847.00,309.87 L848.62,310.06 L850.24,310.24 L851.86,310.42 L853.48,310.59 L855.11,310.76 L856.73,310.92 L858.35,311.08 L859.97,311.24 L861.60,311.39 L863.22,311.54 L864.84,311.69 L866.46,311.83 L868.09,311.97 L869.71,312.11 L871.33,312.24 L872.95,312.37 L874.57,312.50 L876.20,312.62 L877.82,312.75 L879.44,312.86 L881.06,312.98 L882.69,313.09 L884.31,313.20 L885.93,313.31 L887.55,313.41 L889.18,313.52 L890.80,313.61 L892.42,313.71 L894.04,313.81 L895.67,313.90 L897.29,313.99 L898.91,314.08 L900.53,314.16 L902.15,314.24 L903.78,314.33 L905.40,314.40 L907.02,314.48 L908.64,314.56 L910.27,314.63 L911.89,314.70 L913.51,314.77 L915.13,314.84 L916.76,314.90 L918.38,314.97 L920.00,315.03 L921.62,315.09 L923.24,315.15 L924.87,315.21 L926.49,315.26 L928.11,315.32 L929.73,315.37 L931.36,315.42 L932.98,315.47 L934.60,315.52 L936.22,315.57 L937.85,315.61 L939.47,315.66 L941.09,315.70 L942.71,315.74 L944.33,315.78 L945.96,315.82 L947.58,315.86 L949.20,315.90 L950.82,315.94 L952.45,315.97 L954.07,316.00 L955.69,316.04 L957.31,316.07 L958.94,316.10" stroke="#00f400"/>
</g></g>
<text transform="translate(417.50,339.10) scale(0.7450,1)" font-family='"Liberation Sans", Arial, sans-serif' font-size="17.0" font-weight="bold" font-style="normal" text-anchor="middle" fill="#1a1a1a" >0</text>
<text transform="translate(488.85,339.10) scale(0.7450,1)" font-family='"Liberation Sans", Arial, sans-serif' font-size="17.0" font-weight="bold" font-style="normal" text-anchor="middle" fill="#1a1a1a" >1</text><g transform="translate(488.85,339.10) scale(0.7450,1)" fill="#fff"><rect x="-4.39" y="-2.12" width="3.40" height="2.67"/><rect x="1.81" y="-2.12" width="3.40" height="2.67"/></g>
<text transform="translate(560.20,339.10) scale(0.7450,1)" font-family='"Liberation Sans", Arial, sans-serif' font-size="17.0" font-weight="bold" font-style="normal" text-anchor="middle" fill="#1a1a1a" >2</text>
<text transform="translate(631.55,339.10) scale(0.7450,1)" font-family='"Liberation Sans", Arial, sans-serif' font-size="17.0" font-weight="bold" font-style="normal" text-anchor="middle" fill="#1a1a1a" >3</text>
<text transform="translate(702.90,339.10) scale(0.7450,1)" font-family='"Liberation Sans", Arial, sans-serif' font-size="17.0" font-weight="bold" font-style="normal" text-anchor="middle" fill="#1a1a1a" >4</text>
<text transform="translate(414.30,322.10) scale(0.7450,1)" font-family='"Liberation Sans", Arial, sans-serif' font-size="17.0" font-weight="bold" font-style="normal" text-anchor="end" fill="#1a1a1a" >0</text>
<text transform="translate(414.30,245.68) scale(0.7450,1)" font-family='"Liberation Sans", Arial, sans-serif' font-size="17.0" font-weight="bold" font-style="normal" text-anchor="end" fill="#1a1a1a" >0.1</text><g transform="translate(414.30,245.68) scale(0.7450,1)" fill="#fff"><rect x="-9.14" y="-2.12" width="3.40" height="2.67"/><rect x="-2.94" y="-2.12" width="3.40" height="2.67"/></g>
<text transform="translate(414.30,169.25) scale(0.7450,1)" font-family='"Liberation Sans", Arial, sans-serif' font-size="17.0" font-weight="bold" font-style="normal" text-anchor="end" fill="#1a1a1a" >0.2</text>
<text transform="translate(414.30,92.83) scale(0.7450,1)" font-family='"Liberation Sans", Arial, sans-serif' font-size="17.0" font-weight="bold" font-style="normal" text-anchor="end" fill="#1a1a1a" >0.3</text>
<text transform="translate(414.30,16.40) scale(0.7450,1)" font-family='"Liberation Sans", Arial, sans-serif' font-size="17.0" font-weight="bold" font-style="normal" text-anchor="end" fill="#1a1a1a" >0.4</text>
<text transform="translate(559.80,359.80) scale(0.8800,1)" font-family='"Liberation Sans", Arial, sans-serif' font-size="18.5" font-weight="normal" font-style="italic" text-anchor="middle" fill="#1a1a1a" >ζ</text>
<text transform="translate(382.7,183.8) rotate(-90)" x="-0.8 10 15.5 19 22.1 29.2 37.4" font-family='"Liberation Sans", Arial, sans-serif' font-size="13.8" font-style="italic" fill="#1a1a1a" stroke="#1a1a1a" stroke-width="0.15">F ' (ζ)</text>
<text x="369.4" y="13.4" font-family='"Liberation Serif", "Times New Roman", serif' font-size="17.5" font-weight="bold" fill="#111">(b)</text>
<text transform="translate(495.90,221.80) scale(0.8748,1)" font-family='"Liberation Serif", "Times New Roman", serif' font-size="13.8" font-weight="normal" font-style="italic" text-anchor="start" fill="#1a1a1a" >δ</text>
<text transform="translate(500.95,228.10) scale(0.8748,1)" font-family='"Liberation Sans", Arial, sans-serif' font-size="10.5" font-weight="bold" font-style="normal" text-anchor="start" fill="#1a1a1a" stroke="#1a1a1a" stroke-width="0.2">v</text>
<text transform="translate(508.83,221.80) scale(0.7795,1)" font-family='"Liberation Sans", Arial, sans-serif' font-size="13.5" font-weight="bold" font-style="normal" text-anchor="start" fill="#1a1a1a" stroke="#1a1a1a" stroke-width="0.25">= 0.1, 0.3, 0.5, 0.7</text><g transform="translate(508.83,221.80) scale(0.7795,1)" fill="#fff"><rect x="23.14" y="-1.75" width="2.70" height="2.30"/><rect x="28.06" y="-1.75" width="2.70" height="2.30"/></g>
<path d="M453.3,302.7L508.8,234.9" stroke="#222" stroke-width="0.9" fill="none"/><path d="M513.6,229.0L510.1,239.9L508.8,234.9L503.6,234.5Z" fill="#000"/>
</svg></body></html>
